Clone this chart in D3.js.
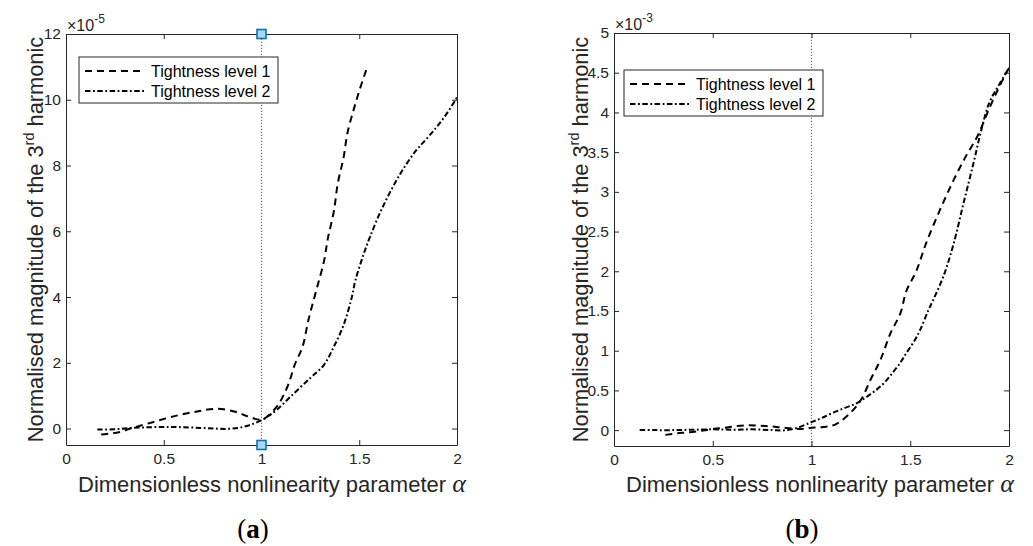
<!DOCTYPE html>
<html>
<head>
<meta charset="utf-8">
<script src="https://cdn.jsdelivr.net/npm/d3@7"></script>
<style>
  body { margin: 0; background: #fff; }
  svg { display: block; font-family: "Liberation Sans", Arial, sans-serif; }
</style>
</head>
<body>
<svg id="chart" width="1033" height="546"></svg>
<script>
// ---- data ----
var xTicks = [0, 0.5, 1, 1.5, 2];
var yTicksA = [0, 2, 4, 6, 8, 10, 12];
var yTicksB = [0, 0.5, 1, 1.5, 2, 2.5, 3, 3.5, 4, 4.5, 5];
var legendLabels = ['Tightness level 1', 'Tightness level 2'];

// (a) values in units of 1e-5
var alphaA1 = [0.18, 0.27, 0.34, 0.43, 0.55, 0.67, 0.77, 0.86, 0.93, 1.0, 1.04, 1.08, 1.11, 1.14, 1.17, 1.21, 1.24, 1.28, 1.32, 1.34, 1.37, 1.39, 1.42, 1.44, 1.47, 1.50, 1.54];
var magA1 = [-0.18, -0.11, 0.02, 0.17, 0.37, 0.52, 0.60, 0.52, 0.37, 0.27, 0.42, 0.68, 0.98, 1.38, 1.94, 2.49, 3.3, 4.2, 5.1, 5.8, 6.6, 7.45, 8.25, 9.0, 9.67, 10.27, 10.98];

var alphaA2 = [0.16, 0.25, 0.34, 0.43, 0.52, 0.60, 0.69, 0.76, 0.82, 0.88, 0.92, 0.96, 1.0, 1.04, 1.08, 1.15, 1.25, 1.32, 1.37, 1.42, 1.46, 1.48, 1.52, 1.555, 1.62, 1.71, 1.79, 1.85, 1.90, 1.95, 2.0];
var magA2 = [-0.03, -0.02, 0.02, 0.04, 0.05, 0.04, 0.02, 0.0, -0.01, 0.02, 0.07, 0.15, 0.25, 0.4, 0.58, 0.98, 1.54, 1.94, 2.49, 3.15, 3.95, 4.5, 5.26, 5.83, 6.74, 7.75, 8.45, 8.85, 9.2, 9.6, 10.07];

// (b) values in units of 1e-3
var alphaB1 = [0.26, 0.32, 0.37, 0.44, 0.50, 0.56, 0.62, 0.68, 0.74, 0.80, 0.86, 0.94, 1.0, 1.06, 1.12, 1.19, 1.25, 1.30, 1.35, 1.40, 1.45, 1.48, 1.53, 1.58, 1.65, 1.72, 1.78, 1.84, 1.90, 1.95, 2.0];
var magB1 = [-0.06, -0.04, -0.03, -0.01, 0.015, 0.03, 0.05, 0.06, 0.055, 0.045, 0.03, 0.015, 0.03, 0.04, 0.07, 0.2, 0.38, 0.64, 0.89, 1.22, 1.47, 1.75, 2.0, 2.35, 2.77, 3.15, 3.44, 3.70, 4.05, 4.32, 4.56];

var alphaB2 = [0.13, 0.2, 0.3, 0.4, 0.5, 0.6, 0.7, 0.8, 0.88, 0.94, 1.0, 1.05, 1.11, 1.17, 1.23, 1.28, 1.33, 1.37, 1.41, 1.45, 1.48, 1.52, 1.55, 1.59, 1.62, 1.67, 1.72, 1.77, 1.82, 1.86, 1.90, 1.95, 2.0];
var magB2 = [0, 0, 0, 0.005, 0.01, 0.005, 0.01, 0.0, 0.0, 0.04, 0.1, 0.15, 0.22, 0.28, 0.34, 0.42, 0.51, 0.6, 0.72, 0.85, 0.97, 1.12, 1.26, 1.5, 1.66, 1.95, 2.35, 2.86, 3.36, 3.78, 4.12, 4.35, 4.56];

// data tips shown on panel (a)
var tipsA = [[1, 12], [1, -0.5]];

var axisColor = '#262626';
var dashStyles = ['7,5', '5.5,2.5,1.8,2.5'];

var svg = d3.select('#chart');

function zip(xs, ys) {
    return xs.map(function (v, i) { return [v, ys[i]]; });
}

function drawPanel(p) {
    var g = svg.append('g');
    var x = d3.scaleLinear().domain([0, 2]).range([p.left, p.right]);
    var y = d3.scaleLinear().domain(p.yDomain).range([p.bottom, p.top]);

    // reference line at alpha = 1
    g.append('line')
        .attr('x1', x(1)).attr('x2', x(1))
        .attr('y1', y(p.yDomain[0])).attr('y2', y(p.yDomain[1]))
        .attr('stroke', '#6e6e6e').attr('stroke-width', 1.2)
        .attr('stroke-dasharray', '1.3,1.7');

    var line = d3.line()
        .x(function (d) { return x(d[0]); })
        .y(function (d) { return y(d[1]); })
        .curve(d3.curveCatmullRom.alpha(0.5));

    p.series.forEach(function (s, i) {
        g.append('path').datum(s)
            .attr('d', line)
            .attr('fill', 'none')
            .attr('stroke', '#000')
            .attr('stroke-width', 2)
            .attr('stroke-dasharray', dashStyles[i]);
    });

    // axes, MATLAB style: ticks inward on all four sides
    var fmt = d3.format('~g');
    var axes = [
        g.append('g').attr('transform', 'translate(0,' + p.bottom + ')')
            .call(d3.axisBottom(x).tickValues(xTicks).tickSizeInner(-5).tickSizeOuter(0).tickPadding(8).tickFormat(fmt)),
        g.append('g').attr('transform', 'translate(0,' + p.top + ')')
            .call(d3.axisTop(x).tickValues(xTicks).tickSizeInner(-5).tickSizeOuter(0).tickFormat('')),
        g.append('g').attr('transform', 'translate(' + p.left + ',0)')
            .call(d3.axisLeft(y).tickValues(p.yTicks).tickSizeInner(-5).tickSizeOuter(0).tickPadding(5).tickFormat(fmt)),
        g.append('g').attr('transform', 'translate(' + p.right + ',0)')
            .call(d3.axisRight(y).tickValues(p.yTicks).tickSizeInner(-5).tickSizeOuter(0).tickFormat(''))
    ];
    axes.forEach(function (a) {
        a.select('.domain').attr('stroke', axisColor).attr('stroke-width', 1);
        a.selectAll('.tick line').attr('stroke', axisColor);
        a.selectAll('.tick text').attr('fill', axisColor)
            .style('font-size', '15.5px').style('font-family', '"Liberation Sans", Arial, sans-serif');
    });

    // exponent label
    var ex = g.append('text').attr('x', p.left + 1).attr('y', p.top - 3)
        .attr('fill', axisColor).style('font-size', '16px');
    ex.append('tspan').text('\u00d710');
    ex.append('tspan').attr('dy', -8).style('font-size', '12px').text(p.exponent);

    // y label
    var yl = g.append('text')
        .attr('transform', 'translate(' + p.yLabelX + ',' + ((p.top + p.bottom) / 2) + ') rotate(-90)')
        .attr('text-anchor', 'middle')
        .attr('fill', axisColor)
        .style('font-size', '21.8px');
    yl.append('tspan').text('Normalised magnitude of the 3');
    yl.append('tspan').attr('dy', -9).style('font-size', '14.5px').text('rd');
    yl.append('tspan').attr('dy', 9).text(' harmonic');

    // x label
    var xl = g.append('text').attr('x', p.left + 12).attr('y', 492)
        .attr('fill', axisColor).style('font-size', '22px');
    xl.append('tspan').text('Dimensionless nonlinearity parameter ');
    xl.append('tspan').style('font-family', '"Liberation Serif", serif')
        .style('font-style', 'italic').style('font-size', '26px').text('\u03b1');

    // legend
    var lg = g.append('g').attr('transform', 'translate(' + p.legend[0] + ',' + p.legend[1] + ')');
    lg.append('rect').attr('width', 199).attr('height', 46)
        .attr('fill', '#fff').attr('stroke', axisColor).attr('stroke-width', 1);
    legendLabels.forEach(function (lab, i) {
        var cy = 14 + i * 20;
        lg.append('line').attr('x1', 6).attr('x2', 66).attr('y1', cy).attr('y2', cy)
            .attr('stroke', '#000').attr('stroke-width', 2).attr('stroke-dasharray', dashStyles[i]);
        lg.append('text').attr('x', 72).attr('y', cy + 6)
            .attr('fill', '#000').style('font-size', '16px').text(lab);
    });

    // data tips
    g.selectAll('rect.tip').data(p.tips).enter().append('rect')
        .attr('class', 'tip')
        .attr('x', function (d) { return x(d[0]) - 4.5; })
        .attr('y', function (d) { return y(d[1]) - 4.5; })
        .attr('width', 9).attr('height', 9)
        .attr('fill', '#a9d9f2').attr('stroke', '#1270b0').attr('stroke-width', 1.6);

    // caption
    var cap = svg.append('text').attr('x', p.captionX).attr('y', 538)
        .attr('text-anchor', 'middle').attr('fill', '#000')
        .style('font-family', '"Liberation Serif", serif').style('font-size', '27px');
    cap.append('tspan').text('(');
    cap.append('tspan').style('font-weight', 'bold').text(p.caption);
    cap.append('tspan').text(')');
}

drawPanel({
    left: 66, right: 457, top: 34, bottom: 445,
    yDomain: [-0.5, 12], yTicks: yTicksA, exponent: '-5',
    series: [zip(alphaA1, magA1), zip(alphaA2, magA2)],
    legend: [79, 57], yLabelX: 43, tips: tipsA,
    caption: 'a', captionX: 253
});

drawPanel({
    left: 614, right: 1009, top: 33, bottom: 446,
    yDomain: [-0.2, 5], yTicks: yTicksB, exponent: '-3',
    series: [zip(alphaB1, magB1), zip(alphaB2, magB2)],
    legend: [624, 70], yLabelX: 588, tips: [],
    caption: 'b', captionX: 802
});
</script>
</body>
</html>
